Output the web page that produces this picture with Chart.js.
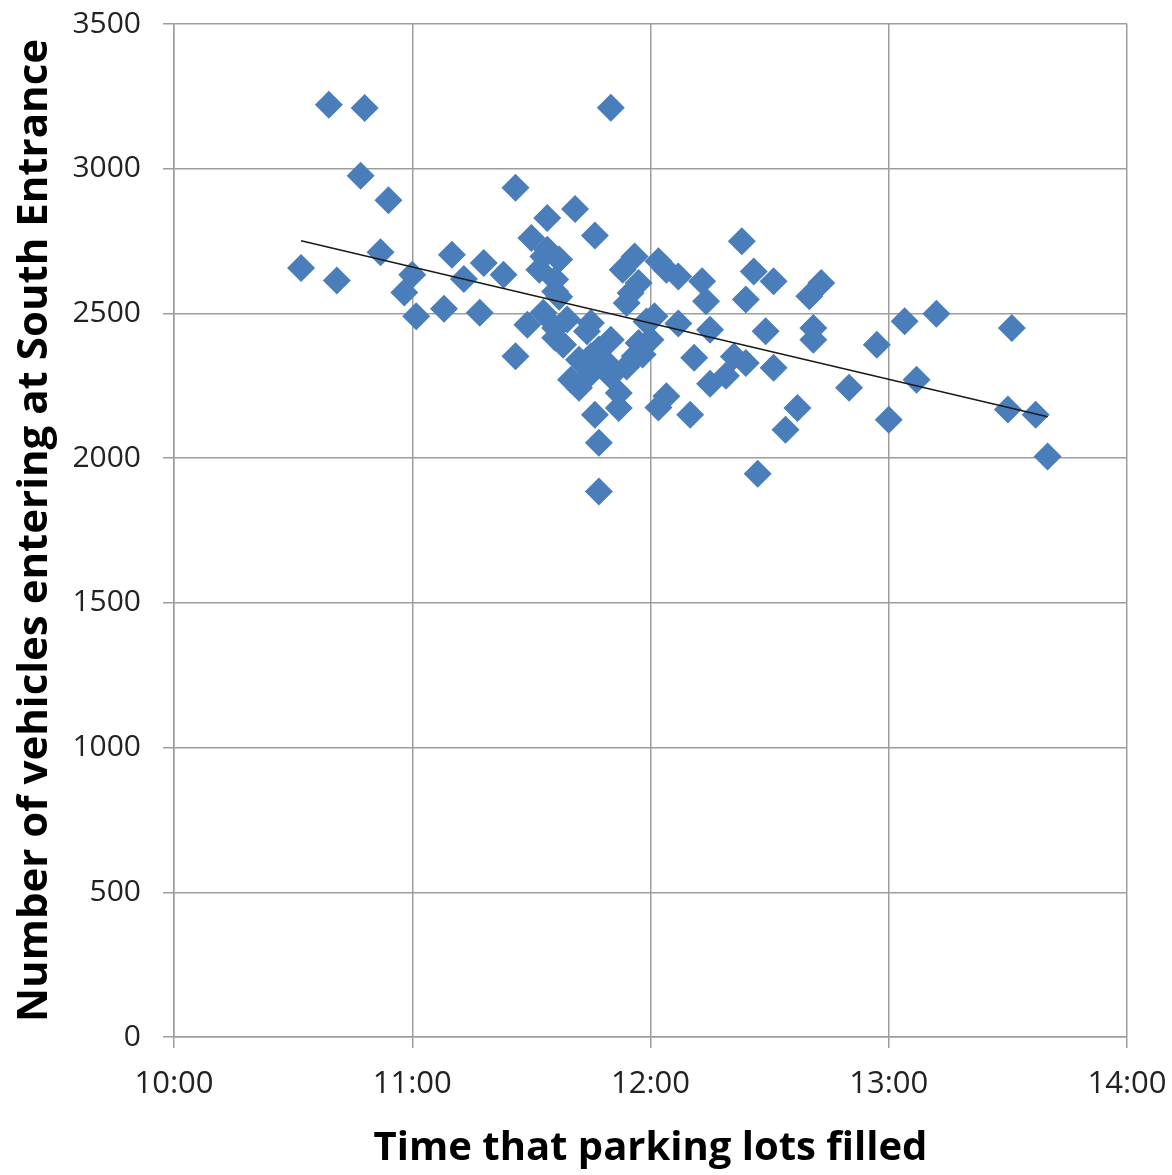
<!DOCTYPE html>
<html>
<head>
<meta charset="utf-8">
<script src="https://cdn.jsdelivr.net/npm/chart.js@4/dist/chart.umd.min.js"></script>
<style>
  html, body { margin: 0; padding: 0; background: #fff; }
  #wrap { width: 1172px; height: 1175px; }
</style>
</head>
<body>
<div id="wrap"><canvas id="myChart"></canvas></div>
<script>
// time the lots filled, in minutes after midnight
var fillTimes = [
  632, 639, 641, 648, 647, 654, 652, 660, 658, 661,
  668, 670, 673, 677, 678, 683, 686, 686, 690, 694,
  701, 706, 693, 697, 692, 696, 696, 689, 693, 696,
  696, 704, 710, 700, 702, 705, 706, 707, 707, 712,
  712, 714, 716, 717, 716, 713, 715, 717, 714, 722,
  727, 721, 719, 727, 735, 733, 734, 722, 724, 730,
  731, 735, 739, 741, 744, 743, 746, 751, 744, 749,
  751, 763, 760, 761, 761, 757, 754, 747, 770, 777,
  784, 792, 787, 780, 811, 810, 817, 820, 710, 709,
  705, 699, 705, 724, 720, 718, 698, 707, 702, 710,
  694, 697
];
// vehicles entering at south entrance
var vehicles = [
  2657, 3221, 2614, 3210, 2976, 2891, 2711, 2634, 2572, 2490,
  2516, 2703, 2619, 2502, 2674, 2634, 2934, 2352, 2761, 2830,
  2861, 2769, 2697, 2686, 2651, 2617, 2576, 2461, 2502, 2450,
  2416, 2438, 2409, 2271, 2243, 2294, 2150, 2053, 1885, 2225,
  2173, 2317, 2352, 2398, 2697, 2651, 2571, 2605, 2536, 2680,
  2628, 2490, 2472, 2465, 2444, 2611, 2542, 2175, 2214, 2150,
  2347, 2257, 2285, 2351, 2329, 2749, 2645, 2611, 2548, 2438,
  2312, 2605, 2559, 2450, 2409, 2173, 2098, 1946, 2243, 2392,
  2473, 2499, 2271, 2133, 2450, 2168, 2150, 2006, 3211, 2329,
  2352, 2479, 2467, 2651, 2409, 2358, 2392, 2375, 2340, 2284,
  2720, 2558
];
// linear trend line ends
var trendTimes = [632, 820];
var trendVehicles = [2751, 2143];

var xTickLabels = ['10:00', '11:00', '12:00', '13:00', '14:00'];

const FONT = "'Open Sans', 'Liberation Sans', sans-serif";

const ctx = document.getElementById('myChart');
var myChart = new Chart(ctx, {
  type: 'scatter',
  data: {
    datasets: [{
      data: trendTimes.map((t, i) => ({ x: t, y: trendVehicles[i] })),
      showLine: true,
      borderColor: '#1a1a1a',
      borderWidth: 1.5,
      pointRadius: 0,
      order: 0
    }, {
      data: fillTimes.map((t, i) => ({ x: t, y: vehicles[i] })),
      pointStyle: 'rectRot',
      pointRadius: 14,
      pointHoverRadius: 14,
      backgroundColor: '#4a7ebb',
      borderColor: '#4a7ebb',
      borderWidth: 0,
      order: 1
    }]
  },
  options: {
    responsive: true,
    maintainAspectRatio: false,
    animation: false,
    layout: { padding: { top: 24, right: 45, left: 0, bottom: 0 } },
    scales: {
      x: {
        type: 'linear',
        min: 600,
        max: 840,
        afterFit: (s) => { s.height = 138; s.paddingLeft = 0; s.paddingRight = 0; },
        ticks: {
          stepSize: 60,
          padding: 18,
          color: '#222',
          font: { family: FONT, size: 31 },
          callback: (v) => xTickLabels[(v - 600) / 60]
        },
        grid: { color: '#9d9d9d', lineWidth: 1.5, tickLength: 11 },
        border: { color: '#9d9d9d', width: 1.5 },
        title: {
          display: true,
          text: 'Time that parking lots filled',
          color: '#000',
          font: { family: FONT, size: 40, weight: 'bold' },
          padding: { top: 4, bottom: 2 }
        }
      },
      y: {
        min: 0,
        max: 3500,
        afterFit: (s) => { s.width = 174; s.paddingTop = 0; s.paddingBottom = 0; },
        ticks: {
          stepSize: 500,
          padding: 22,
          color: '#222',
          font: { family: FONT, size: 30 },
          callback: (v) => String(v)
        },
        grid: { color: '#9d9d9d', lineWidth: 1.5, tickLength: 11 },
        border: { color: '#9d9d9d', width: 1.5 },
        title: {
          display: true,
          text: 'Number of vehicles entering at South Entrance',
          color: '#000',
          font: { family: FONT, size: 42, weight: 'bold' },
          padding: { top: 10, bottom: 4 }
        }
      }
    },
    plugins: {
      legend: { display: false },
      tooltip: { enabled: false }
    }
  }
});
</script>
</body>
</html>
